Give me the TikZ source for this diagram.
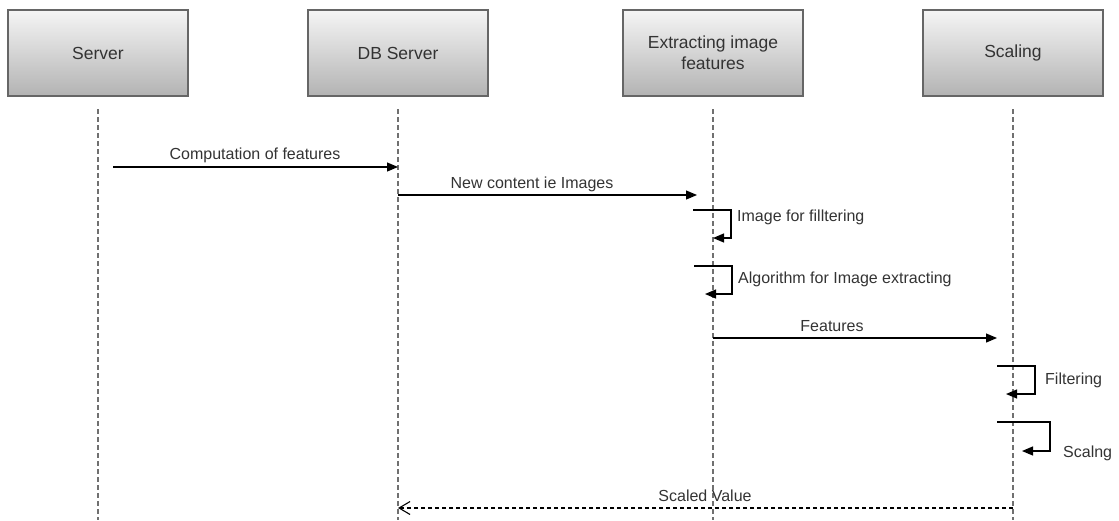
\documentclass[tikz,border=0pt]{standalone}
\usepackage{fontspec}
\setmainfont{Liberation Sans}
\usetikzlibrary{arrows.meta}
\definecolor{boxtop}{HTML}{F5F5F5}
\definecolor{boxbot}{HTML}{B3B3B3}
\definecolor{boxline}{HTML}{666666}
\definecolor{txt}{HTML}{333333}
\definecolor{lifecol}{HTML}{707070}
\begin{document}
\begin{tikzpicture}[x=1pt,y=-1pt,
 actor/.style={draw=boxline, line width=1.1pt, top color=boxtop, bottom color=boxbot,
   minimum width=180pt, minimum height=86pt, inner sep=0pt, text=txt,
   font=\fontsize{17.5}{21}\selectfont, align=center},
 life/.style={draw=lifecol, dash pattern=on 5pt off 3pt, line width=1.3pt},
 msg/.style={draw=black, line width=1.2pt, -{Triangle[length=11pt,width=9pt]}},
 ret/.style={draw=black, line width=1.1pt, dash pattern=on 4pt off 3pt,
   -{Straight Barb[length=11pt,width=13pt,line width=1.1pt]}},
 lbl/.style={text=txt, font=\fontsize{16}{19}\selectfont, inner sep=0pt}
]
\useasboundingbox (0,0) rectangle (1119,520);
% actors
\node[actor] (server) at (98,53) {Server};
\node[actor] (db) at (398,53) {DB Server};
\node[actor] (ext) at (713,53) {Extracting image\\features};
\node[actor] (scal) at (1013,53) {Scaling};
% lifelines
\coordinate (sT) at (98,109);   \coordinate (sB) at (98,520);
\coordinate (dT) at (398,109);  \coordinate (dB) at (398,520);
\coordinate (eT) at (713,109);  \coordinate (eB) at (713,520);
\coordinate (cT) at (1013,109); \coordinate (cB) at (1013,520);
\draw[life] (sT) -- (sB);
\draw[life] (dT) -- (dB);
\draw[life] (eT) -- (eB);
\draw[life] (cT) -- (cB);
% message 1
\coordinate (m1a) at (113,167); \coordinate (m1b) at (398,167);
\draw[msg] (m1a) -- (m1b);
\node[lbl] (l1) at (255,155) {Computation of features};
% message 2
\coordinate (m2a) at (398,195); \coordinate (m2b) at (697,195);
\draw[msg] (m2a) -- (m2b);
\node[lbl] (l2) at (532,184) {New content ie Images};
% self 1
\coordinate (s1a) at (693,210); \coordinate (s1b) at (731,238); \coordinate (s1c) at (713,238);
\draw[msg] (s1a) -| (s1b) -- (s1c);
\node[lbl, anchor=west] (l3) at (737,217) {Image for filltering};
% self 2
\coordinate (s2a) at (694,266); \coordinate (s2b) at (732,294); \coordinate (s2c) at (705,294);
\draw[msg] (s2a) -| (s2b) -- (s2c);
\node[lbl, anchor=west] (l4) at (738,279) {Algorithm for Image extracting};
% message 5
\coordinate (m5a) at (713,338); \coordinate (m5b) at (997,338);
\draw[msg] (m5a) -- (m5b);
\node[lbl] (l5) at (832,326) {Features};
% self 3
\coordinate (s3a) at (997,366); \coordinate (s3b) at (1035,394); \coordinate (s3c) at (1006,394);
\draw[msg] (s3a) -| (s3b) -- (s3c);
\node[lbl, anchor=west] (l6) at (1045,380) {Filtering};
% self 4
\coordinate (s4a) at (997,422); \coordinate (s4b) at (1050,451); \coordinate (s4c) at (1022,451);
\draw[msg] (s4a) -| (s4b) -- (s4c);
\node[lbl, anchor=west] (l7) at (1063,453) {Scalng};
% return
\coordinate (ra) at (1013,508); \coordinate (rb) at (398,508);
\draw[ret] (ra) -- (rb);
\node[lbl] (l8) at (705,496) {Scaled Value};
\end{tikzpicture}
\end{document}
